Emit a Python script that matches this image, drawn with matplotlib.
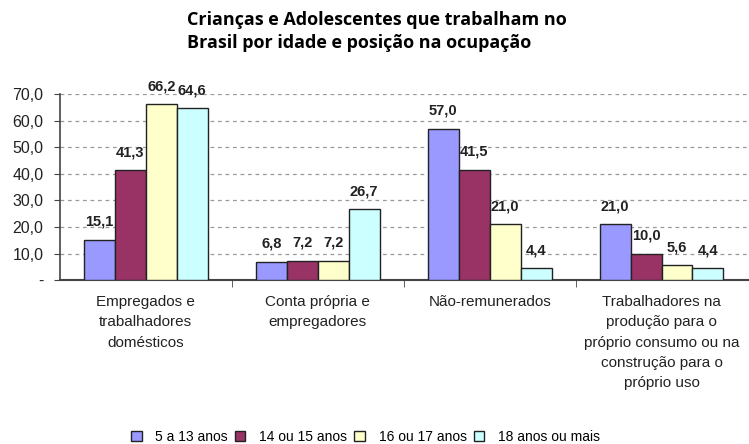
import matplotlib
matplotlib.use("Agg")
import matplotlib.pyplot as plt
import numpy as np

categories = ["Empregados e\ntrabalhadores\ndomésticos",
              "Conta própria e\nempregadores",
              "Não-remunerados",
              "Trabalhadores na\nprodução para o\npróprio consumo ou na\nconstrução para o\npróprio uso"]
series_names = ["5 a 13 anos", "14 ou 15 anos", "16 ou 17 anos", "18 anos ou mais"]
v_5_13 = [15.1, 6.8, 57.0, 21.0]
v_14_15 = [41.3, 7.2, 41.5, 10.0]
v_16_17 = [66.2, 7.2, 21.0, 5.6]
v_18 = [64.6, 26.7, 4.4, 4.4]
yticks = [0, 10, 20, 30, 40, 50, 60, 70]
ytick_labels = ["-", "10,0", "20,0", "30,0", "40,0", "50,0", "60,0", "70,0"]

series = [v_5_13, v_14_15, v_16_17, v_18]
colors = ["#9999FF", "#993366", "#FFFFCC", "#CCFFFF"]

fig = plt.figure(figsize=(7.49, 4.44), dpi=100)
ax = fig.add_axes([0.080, 0.369, 0.918, 0.419])

x = np.arange(len(categories))
bw = 0.18
for i, (vals, c) in enumerate(zip(series, colors)):
    pos = x + (i - 1.5) * bw
    ax.bar(pos, vals, width=bw, color=c, edgecolor="#222222", linewidth=1.0,
           label=series_names[i], zorder=3)
    for p, v in zip(pos, vals):
        ax.annotate(f"{v:.1f}".replace(".", ","), (p, v), xytext=(0, 8),
                    textcoords="offset points", ha="center", va="bottom",
                    fontsize=10.5, fontweight="bold", family="Liberation Sans",
                    color="#222222", annotation_clip=False)

ax.set_xlim(-0.5, 3.5)
ax.set_ylim(0, 70)
ax.set_yticks(yticks)
ax.set_yticklabels(ytick_labels, family="Liberation Sans", fontsize=11.5, color="#222222")
ax.yaxis.grid(True, linestyle=(0, (3, 3)), color="#999999", linewidth=0.9, zorder=0)
ax.set_xticks(x)
ax.set_xticklabels(categories, family="Liberation Sans", fontsize=11, color="#222222",
                   linespacing=1.55, va="top")
ax.tick_params(axis="x", length=0, pad=11)
ax.tick_params(axis="y", length=4, direction="out", color="#444444", pad=8)
ax.set_xticks([0.5, 1.5, 2.5], minor=True)
ax.tick_params(axis="x", which="minor", length=5, direction="out", color="#444444")
for s in ["top", "right"]:
    ax.spines[s].set_visible(False)
ax.spines["left"].set_color("#444444")
ax.spines["bottom"].set_color("#444444")
ax.spines["bottom"].set_linewidth(1.5)
ax.spines["left"].set_linewidth(1.2)

fig.text(0.25, 0.975, "Crianças e Adolescentes que trabalham no\nBrasil por idade e posição na ocupação",
         ha="left", va="top", fontsize=13, fontweight="bold", family="Open Sans",
         linespacing=1.35, color="black")

leg = fig.legend(loc="lower center", bbox_to_anchor=(0.488, -0.028), ncol=4, frameon=False,
                 prop={"family": "Liberation Sans", "size": 10}, handlelength=0.75,
                 handleheight=0.75, columnspacing=0.5, handletextpad=1.0)

fig.savefig("out.png", dpi=100, facecolor="white")
